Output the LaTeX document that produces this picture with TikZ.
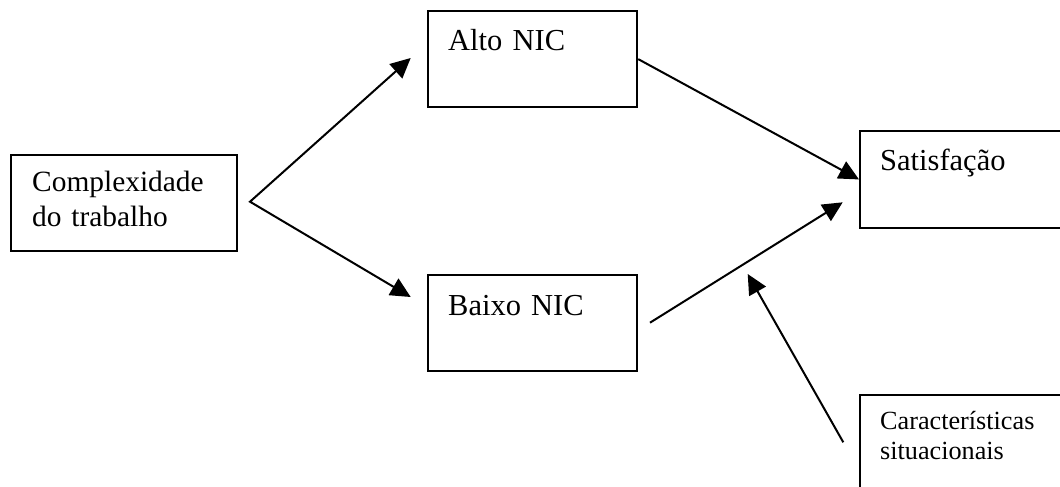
\documentclass[tikz,border=0pt]{standalone}
\usepackage{fontspec}
\setmainfont{Liberation Serif}
\usetikzlibrary{arrows.meta}
\begin{document}
\begin{tikzpicture}[x=1pt,y=-1pt,
  frame/.style={draw, line width=2.2pt, inner sep=0pt, anchor=north west},
  caption/.style={anchor=base west, inner sep=0pt, align=left, text width=#1},
  big/.style={font=\fontsize{30.5}{34.3}\selectfont},
  mid/.style={font=\fontsize{29.4}{34.3}\selectfont},
  small/.style={font=\fontsize{26.2}{30}\selectfont},
  head/.style={Triangle[length=20pt,width=19pt]},
  link/.style={line width=2pt, -{Triangle[length=20pt,width=19pt]}}]
\useasboundingbox (0,0) rectangle (1060,487);
\clip (0,0) rectangle (1060,487);

% boxes
\node[frame, minimum width=226pt, minimum height=96pt] (comp) at (10,154) {};
\node[frame, minimum width=209.3pt, minimum height=96pt] (alto) at (426.7,10) {};
\node[frame, minimum width=209.3pt, minimum height=96pt] (baixo) at (426.7,274) {};
\node[frame, minimum width=240pt, minimum height=96.7pt] (sat) at (859,130) {};
\node[frame, minimum width=240pt, minimum height=130pt] (car) at (859,394) {};

% box texts
\node[caption=200pt, mid] (compT) at (32,191.7) {Complexidade\\do trabalho};
\node[caption=180pt, big] (altoT) at (448,51) {Alto NIC};
\node[caption=180pt, big] (baixoT) at (448,315) {Baixo NIC};
\node[caption=180pt, big] (satT) at (880,170) {Satisfação};
\node[caption=180pt, small] (carT) at (880,429) {Características\\situacionais};

% free ends of the connectors
\coordinate (fork) at (250,201.7);
\coordinate (altoIn) at (410.7,58);
\coordinate (baixoIn) at (410.7,297);
\coordinate (baixoOut) at (650,322.7);
\coordinate (satIn) at (842.7,202.3);
\coordinate (carOut) at (843.3,442.3);
\coordinate (modTip) at (747.7,274);

% connectors
\draw[line width=2pt, {Triangle[length=20pt,width=19pt]}-{Triangle[length=20pt,width=19pt]}]
  (altoIn) -- (fork) -- (baixoIn);
\draw[link] (alto.east) -- (sat.west);
\draw[link] (baixoOut) -- (satIn);
\draw[link] (carOut) -- (modTip);
\end{tikzpicture}
\end{document}
